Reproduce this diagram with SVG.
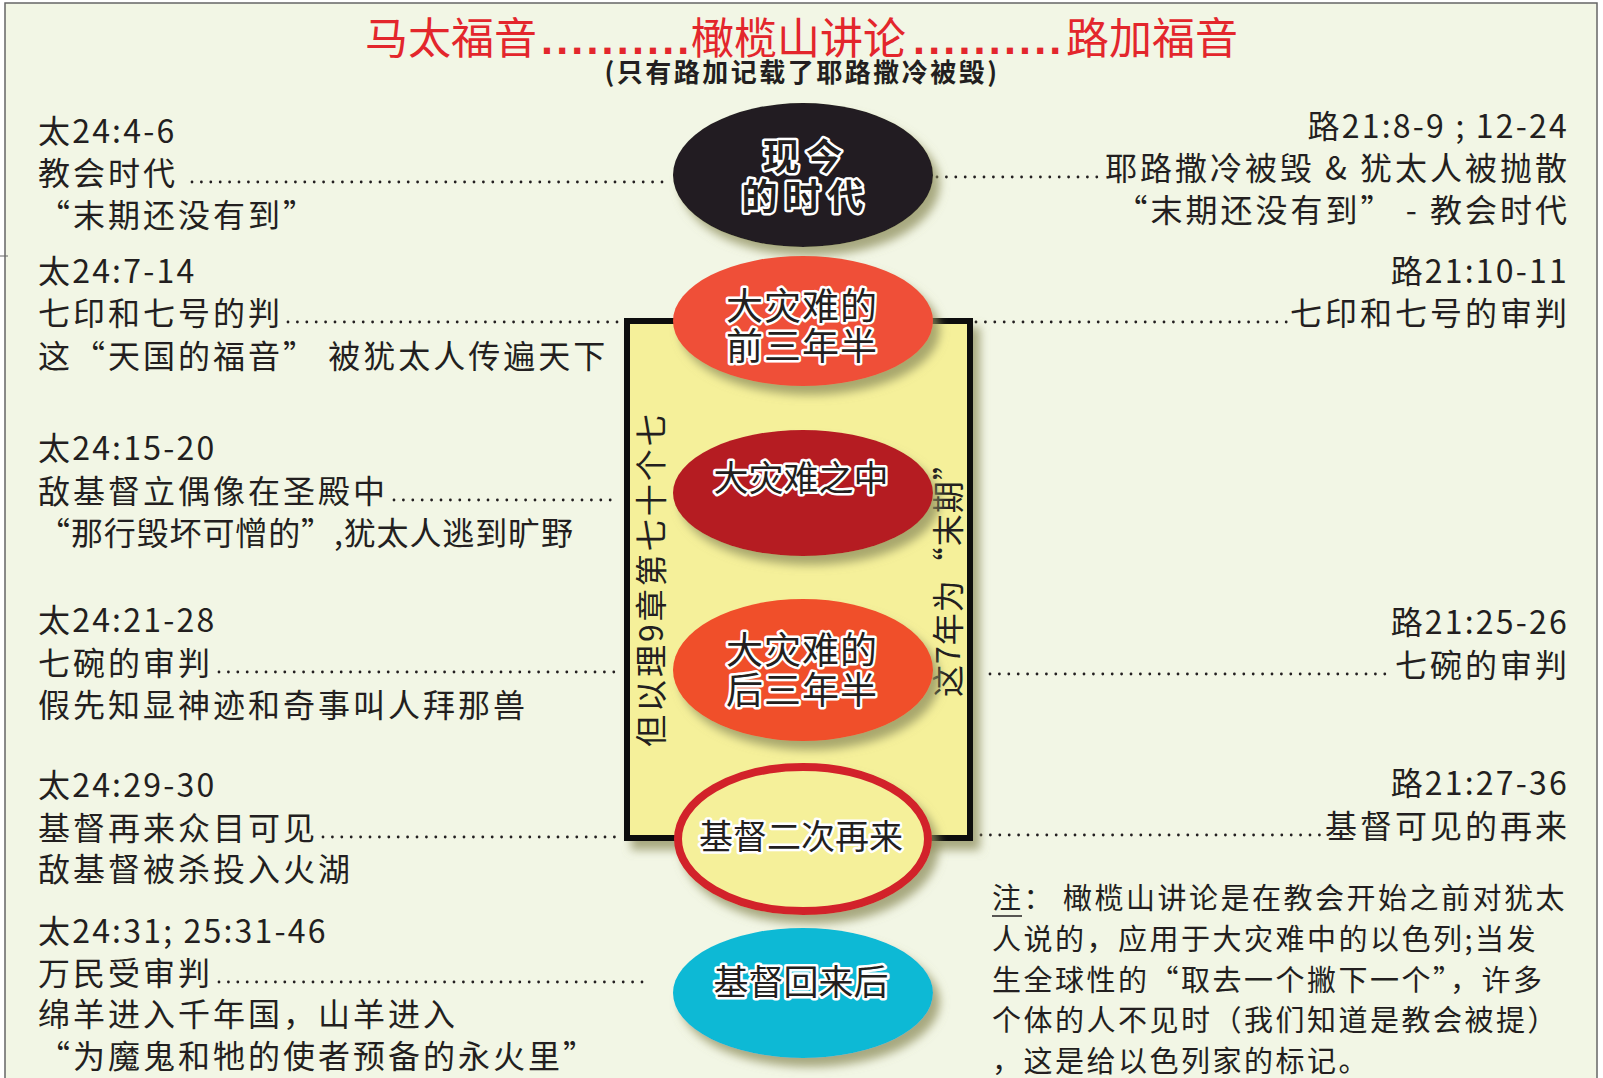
<svg xmlns="http://www.w3.org/2000/svg" width="1603" height="1078" viewBox="0 0 1603 1078">
<defs>
<filter id="sh" x="-20%" y="-20%" width="150%" height="150%">
<feGaussianBlur in="SourceAlpha" stdDeviation="5"/>
<feOffset dx="7" dy="9" result="b"/>
<feFlood flood-color="#8f8f5e" flood-opacity="0.75"/>
<feComposite in2="b" operator="in"/>
<feMerge><feMergeNode/><feMergeNode in="SourceGraphic"/></feMerge>
</filter>
<style>
.t{font-family:"Noto Sans CJK SC","Noto Sans",sans-serif;font-size:32px;fill:#231f20;letter-spacing:3px}
.ref{letter-spacing:2.2px}
.r{text-anchor:end}
.n{font-family:"Noto Sans CJK SC","Noto Sans",sans-serif;font-size:29px;fill:#231f20;letter-spacing:2.5px}
.lab{font-family:"Noto Sans CJK SC","Noto Sans",sans-serif;fill:#231f20;stroke:#fff;stroke-width:5px;stroke-linejoin:round;paint-order:stroke;text-anchor:middle}
.dot{stroke:#231f20;stroke-width:2.8;stroke-linecap:round;stroke-dasharray:0 9.4;fill:none}
.vt{font-family:"Noto Sans CJK SC","Noto Sans",sans-serif;font-size:32px;fill:#231f20}
.dots{font-family:"Liberation Sans",sans-serif;font-weight:bold;letter-spacing:3.2px}
</style>
</defs>
<rect x="0" y="0" width="1603" height="1078" fill="#ffffff"/>
<rect x="5" y="3" width="1592" height="1090" fill="#f2f6e5" stroke="#666" stroke-width="1.5"/>
<line x1="0" y1="256" x2="8" y2="256" stroke="#666" stroke-width="1"/>

<g id="title">
<text y="54" font-family="Noto Sans CJK SC, sans-serif" font-size="43" fill="#e3262c"><tspan x="365">马太福音</tspan><tspan class="dots" x="541">..........</tspan><tspan x="691">橄榄山讲论</tspan><tspan class="dots" x="913">..........</tspan><tspan x="1066">路加福音</tspan></text>
<text x="802" y="82" text-anchor="middle" font-family="Noto Sans CJK SC, sans-serif" font-weight="bold" font-size="26" letter-spacing="2.5" fill="#231f20">(只有路加记载了耶路撒冷被毁)</text>
</g>

<g id="connectors">
<line class="dot" x1="192" y1="182" x2="664" y2="182"/>
<line class="dot" x1="288" y1="322" x2="618" y2="322"/>
<line class="dot" x1="394" y1="500" x2="616" y2="500"/>
<line class="dot" x1="219" y1="672" x2="616" y2="672"/>
<line class="dot" x1="323" y1="837" x2="618" y2="837"/>
<line class="dot" x1="219" y1="982" x2="647" y2="982"/>
<line class="dot" x1="937" y1="177" x2="1098" y2="177"/>
<line class="dot" x1="976" y1="322" x2="1290" y2="322"/>
<line class="dot" x1="990" y1="674" x2="1394" y2="674"/>
<line class="dot" x1="981" y1="835" x2="1322" y2="835"/>
</g>

<g id="box-seventy-weeks">
<rect x="627" y="321" width="343" height="517" fill="#f5f09a" stroke="#111" stroke-width="6" filter="url(#sh)"/>
<text class="vt" letter-spacing="3" transform="translate(663,747) rotate(-90)">但以理9章第七十个七</text>
<text class="vt" letter-spacing="1" transform="translate(960,697) rotate(-90)">这7年为“末期”</text>
</g>

<g id="node-present">
<ellipse cx="803" cy="175" rx="130" ry="72" fill="#231f20" filter="url(#sh)"/>
<text class="lab" font-size="36" font-weight="bold" letter-spacing="7"><tspan x="806" y="170">现今</tspan><tspan x="806" y="210">的时代</tspan></text>
</g>

<g id="node-first-half">
<ellipse cx="803" cy="321" rx="130" ry="65" fill="#ef5039" filter="url(#sh)"/>
<text class="lab" font-size="37" letter-spacing="1"><tspan x="802" y="320">大灾难的</tspan><tspan x="802" y="360">前三年半</tspan></text>
</g>

<g id="node-middle">
<ellipse cx="803" cy="493" rx="130" ry="63" fill="#b51c24" filter="url(#sh)"/>
<text class="lab" x="801" y="491" font-size="35">大灾难之中</text>
</g>

<g id="node-second-half">
<ellipse cx="803" cy="670" rx="130" ry="71" fill="#f04f2a" filter="url(#sh)"/>
<text class="lab" font-size="37" letter-spacing="1"><tspan x="802" y="664">大灾难的</tspan><tspan x="802" y="704">后三年半</tspan></text>
</g>

<g id="node-second-coming">
<ellipse cx="803" cy="839" rx="125" ry="72" fill="#f5f09a" stroke="#d2232a" stroke-width="8" filter="url(#sh)"/>
<text class="lab" x="801" y="849" font-size="34">基督二次再来</text>
</g>

<g id="node-after-return">
<ellipse cx="803" cy="993" rx="130" ry="65" fill="#0db9d5" filter="url(#sh)"/>
<text class="lab" x="801" y="995" font-size="35">基督回来后</text>
</g>

<g id="matthew">
<text class="t ref" x="38" y="143">太24:4-6</text>
<text class="t" x="38" y="185">教会时代</text>
<text class="t" x="38" y="227">“末期还没有到”</text>
<text class="t ref" x="38" y="283">太24:7-14</text>
<text class="t" x="38" y="325">七印和七号的判</text>
<text class="t" x="38" y="368">这“天国的福音” 被犹太人传遍天下</text>
<text class="t ref" x="38" y="460">太24:15-20</text>
<text class="t" x="38" y="503">敌基督立偶像在圣殿中</text>
<text class="t" x="38" y="545" textLength="538" lengthAdjust="spacing">“那行毁坏可憎的”,犹太人逃到旷野</text>
<text class="t ref" x="38" y="632">太24:21-28</text>
<text class="t" x="38" y="675">七碗的审判</text>
<text class="t" x="38" y="717">假先知显神迹和奇事叫人拜那兽</text>
<text class="t ref" x="38" y="797">太24:29-30</text>
<text class="t" x="38" y="840">基督再来众目可见</text>
<text class="t" x="38" y="881">敌基督被杀投入火湖</text>
<text class="t ref" x="38" y="943">太24:31; 25:31-46</text>
<text class="t" x="38" y="985">万民受审判</text>
<text class="t" x="38" y="1026">绵羊进入千年国，山羊进入</text>
<text class="t" x="38" y="1068">“为魔鬼和牠的使者预备的永火里”</text>
</g>

<g id="luke">
<text class="t ref r" x="1569" y="138">路21:8-9 ; 12-24</text>
<text class="t r" x="1570" y="180">耶路撒冷被毁 &amp; 犹太人被抛散</text>
<text class="t r" x="1570" y="222">“末期还没有到”  - 教会时代</text>
<text class="t ref r" x="1569" y="283">路21:10-11</text>
<text class="t r" x="1570" y="325">七印和七号的审判</text>
<text class="t ref r" x="1569" y="634">路21:25-26</text>
<text class="t r" x="1570" y="677">七碗的审判</text>
<text class="t ref r" x="1569" y="795">路21:27-36</text>
<text class="t r" x="1570" y="838">基督可见的再来</text>
</g>

<g id="note">
<text class="n" x="992" y="909">注：</text>
<line x1="992" y1="916" x2="1022" y2="916" stroke="#231f20" stroke-width="1.5"/>
<text class="n" x="1063" y="909">橄榄山讲论是在教会开始之前对犹太</text>
<text class="n" x="992" y="950">人说的，应用于大灾难中的以色列;当发</text>
<text class="n" x="992" y="991">生全球性的“取去一个撇下一个”，许多</text>
<text class="n" x="992" y="1031">个体的人不见时（我们知道是教会被提）</text>
<text class="n" x="992" y="1072">，这是给以色列家的标记。</text>
</g>
</svg>
